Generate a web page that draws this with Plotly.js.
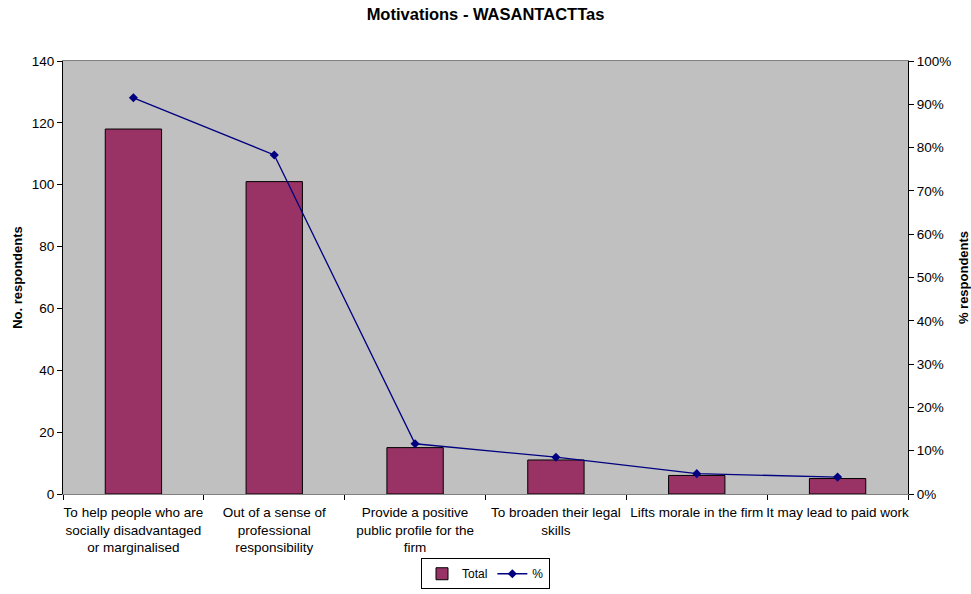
<!DOCTYPE html>
<html>
<head>
<meta charset="utf-8">
<script src="https://cdn.plot.ly/plotly-3.0.1.min.js"></script>
<style>html,body{margin:0;padding:0;background:#fff;}#chart{width:971px;height:594px;}</style>
</head>
<body>
<div id="chart"></div>
<script>
const categories = [
  "To help people who are<br>socially disadvantaged<br>or marginalised",
  "Out of a sense of<br>professional<br>responsibility",
  "Provide a positive<br>public profile for the<br>firm",
  "To broaden their legal<br>skills",
  "Lifts morale in the firm",
  "It may lead to paid work"
];
const totals = [118, 101, 15, 11, 6, 5];
const percents = [0.915, 0.783, 0.116, 0.085, 0.047, 0.039];

const font = "Liberation Sans, Arial, sans-serif";

const traces = [
  {
    type: "bar", name: "Total", x: categories, y: totals,
    marker: {color: "#993366", line: {color: "#000000", width: 1}},
    width: 0.4, yaxis: "y"
  },
  {
    type: "scatter", mode: "lines+markers", name: "%", x: categories, y: percents,
    line: {color: "#000080", width: 1.3},
    marker: {symbol: "diamond", size: 7, color: "#000080"},
    yaxis: "y2"
  }
];

const layout = {
  width: 971, height: 594,
  margin: {l: 63, r: 63, t: 61, b: 100},
  paper_bgcolor: "#ffffff",
  plot_bgcolor: "#c0c0c0",
  font: {family: font, size: 13, color: "#000"},
  title: {text: "<b>Motivations - WASANTACTTas</b>", font: {family: font, size: 16.5, color: "#000"}, x: 0.5, xanchor: "center", y: 0.985, yanchor: "top"},
  showlegend: true,
  legend: {orientation: "h", x: 0.5, xanchor: "center", yref: "container", y: 0.008, yanchor: "bottom",
    bordercolor: "#000", borderwidth: 1, bgcolor: "#fff", font: {family: font, size: 12},
    itemwidth: 30, tracegroupgap: 0},
  xaxis: {
    type: "category", tickson: "boundaries", ticks: "outside", ticklen: 5, tickcolor: "#000",
    showline: true, linecolor: "#808080", linewidth: 1, mirror: true,
    showgrid: false, tickangle: 0, tickfont: {family: font, size: 13.5},
    ticklabelstandoff: 6, automargin: false
  },
  yaxis: {
    range: [0, 140], dtick: 20, ticks: "outside", ticklen: 5, tickcolor: "#000",
    showline: true, linecolor: "#000", linewidth: 1, showgrid: false, zeroline: false,
    title: {text: "<b>No. respondents</b>", font: {family: font, size: 13}, standoff: 6},
    tickfont: {family: font, size: 13.5}, automargin: false
  },
  yaxis2: {
    overlaying: "y", side: "right", range: [0, 1], dtick: 0.1, tickformat: ".0%",
    ticks: "outside", ticklen: 5, tickcolor: "#000",
    showline: true, linecolor: "#000", linewidth: 1, showgrid: false, zeroline: false,
    title: {text: "<b>% respondents</b>", font: {family: font, size: 13}, standoff: 10},
    tickfont: {family: font, size: 13.5}, automargin: false
  },
  bargap: 0.6
};

Plotly.newPlot("chart", traces, layout, {displayModeBar: false, staticPlot: true});
</script>
</body>
</html>
